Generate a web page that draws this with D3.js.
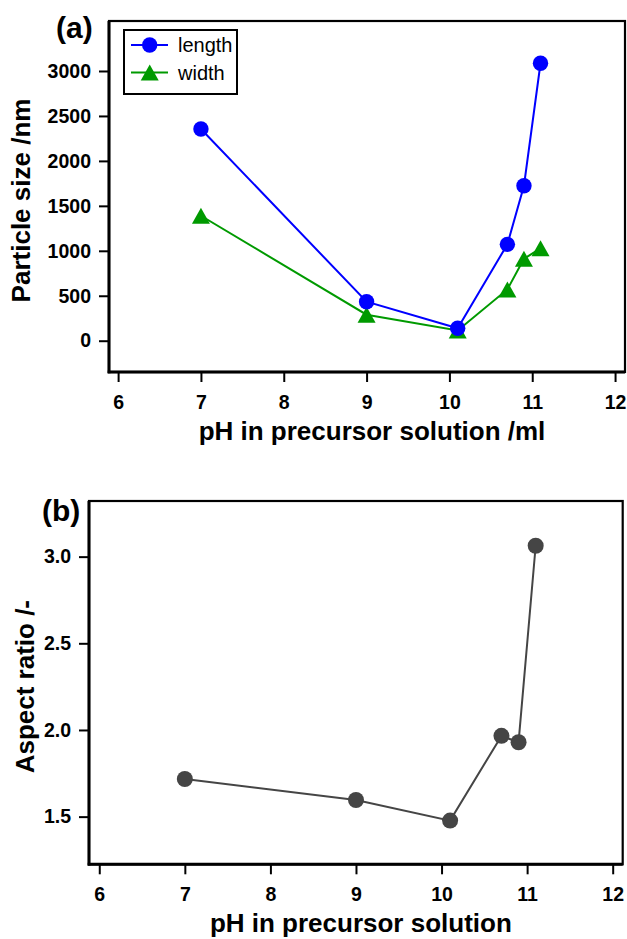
<!DOCTYPE html>
<html>
<head>
<meta charset="utf-8">
<script src="https://cdn.jsdelivr.net/npm/d3@7"></script>
<style>
  html, body { margin: 0; padding: 0; background: #fff; }
  svg { display: block; font-family: "Liberation Sans", Arial, Helvetica, sans-serif; }
</style>
</head>
<body>
<svg id="chart" width="627" height="939"></svg>
<script>
// ---- data ----
const phValues = [7, 9, 10.1, 10.7, 10.9, 11.1];
const lengthNm = [2355, 434, 138, 1072, 1724, 3086];
const widthNm = [1390, 289, 113, 570, 911, 1028];
const aspectRatio = [1.717, 1.596, 1.477, 1.966, 1.929, 3.063];
const xTicks = [6, 7, 8, 9, 10, 11, 12];
const yTicksA = [0, 500, 1000, 1500, 2000, 2500, 3000];
const yTicksB = [1.5, 2.0, 2.5, 3.0];
const seriesNames = ["length", "width"];

const svg = d3.select("#chart");
const tickFont = 19.5, titleFont = 26;

function drawFrame(g, x, y, xT, yT, yFmt, xTitle, yTitle, yTitleX, label, labelX, labelY) {
  const [x0, x1] = x.range();
  const [y0, y1] = y.range(); // y0 bottom, y1 top
  const xa = g.append("g").attr("transform", `translate(0,${y0})`)
    .call(d3.axisBottom(x).tickValues(xT).tickSize(10).tickSizeOuter(0).tickPadding(13).tickFormat(d3.format("d")));
  xa.select(".domain").remove();
  xa.selectAll("line").attr("stroke", "#000").attr("stroke-width", 2);
  xa.selectAll("text").attr("font-size", tickFont).attr("font-weight", "bold").attr("fill", "#000");
  const ya = g.append("g").attr("transform", `translate(${x0},0)`)
    .call(d3.axisLeft(y).tickValues(yT).tickSize(10).tickSizeOuter(0).tickPadding(8).tickFormat(yFmt));
  ya.select(".domain").remove();
  ya.selectAll("line").attr("stroke", "#000").attr("stroke-width", 2);
  ya.selectAll("text").attr("font-size", tickFont).attr("font-weight", "bold").attr("fill", "#000");
  g.append("rect").attr("x", x0).attr("y", y1).attr("width", x1 - x0).attr("height", y0 - y1)
    .attr("fill", "none").attr("stroke", "#000").attr("stroke-width", 2.2);
  g.append("line").attr("x1", x0).attr("x2", x0).attr("y1", y1).attr("y2", y0 + 1.3).attr("stroke", "#000").attr("stroke-width", 3);
  g.append("line").attr("x1", x0 - 1.3).attr("x2", x1).attr("y1", y0).attr("y2", y0).attr("stroke", "#000").attr("stroke-width", 3);
  g.append("text").attr("x", (x0 + x1) / 2 + 5).attr("y", y0 + 68).attr("text-anchor", "middle")
    .attr("font-size", titleFont).attr("font-weight", "bold").text(xTitle);
  g.append("text").attr("transform", `translate(${yTitleX},${(y0 + y1) / 2 + 4}) rotate(-90)`)
    .attr("text-anchor", "middle").attr("font-size", titleFont).attr("font-weight", "bold").text(yTitle);
  g.append("text").attr("x", labelX).attr("y", labelY).attr("font-size", 30).attr("font-weight", "bold").text(label);
}

function triPath(cx, cy, w, h) {
  return `M${cx},${cy - h / 2}L${cx + w / 2},${cy + h / 2}L${cx - w / 2},${cy + h / 2}Z`;
}

// ---- panel (a) ----
const xA = d3.scaleLinear().domain([5.89, 12.12]).range([109, 625]);
const yA = d3.scaleLinear().domain([-348, 3556]).range([372, 21]);
const gA = svg.append("g");
drawFrame(gA, xA, yA, xTicks, yTicksA, d3.format("d"), "pH in precursor solution /ml", "Particle size /nm", 30, "(a)", 56, 38);

const blue = "#0000ff", green = "#009a00";
const lineGen = (xs, ys) => d3.line().x((d, i) => xs(phValues[i])).y(d => ys(d));

gA.append("path").datum(widthNm).attr("d", lineGen(xA, yA)).attr("fill", "none").attr("stroke", green).attr("stroke-width", 2);
gA.append("path").datum(lengthNm).attr("d", lineGen(xA, yA)).attr("fill", "none").attr("stroke", blue).attr("stroke-width", 2);
gA.selectAll(".tri").data(widthNm).enter().append("path")
  .attr("d", (d, i) => triPath(xA(phValues[i]), yA(d), 18, 16)).attr("fill", green);
gA.selectAll(".circ").data(lengthNm).enter().append("circle")
  .attr("cx", (d, i) => xA(phValues[i])).attr("cy", d => yA(d)).attr("r", 7.7).attr("fill", blue);

// legend
const leg = gA.append("g");
leg.append("rect").attr("x", 124).attr("y", 30).attr("width", 113).attr("height", 64)
  .attr("fill", "#fff").attr("stroke", "#000").attr("stroke-width", 2);
const legColors = [blue, green];
seriesNames.forEach((name, i) => {
  const ly = 45 + i * 27.5;
  leg.append("line").attr("x1", 131).attr("x2", 168).attr("y1", ly).attr("y2", ly).attr("stroke", legColors[i]).attr("stroke-width", 2);
  if (i === 0) leg.append("circle").attr("cx", 149.7).attr("cy", ly).attr("r", 7.7).attr("fill", blue);
  else leg.append("path").attr("d", triPath(149.7, ly, 18, 16)).attr("fill", green);
  leg.append("text").attr("x", 178).attr("y", ly + 7).attr("font-size", 20).text(name);
});

// ---- panel (b) ----
const xB = d3.scaleLinear().domain([5.88, 12.117]).range([89, 622.7]);
const yB = d3.scaleLinear().domain([1.225, 3.321]).range([864.3, 501]);
const gB = svg.append("g");
drawFrame(gB, xB, yB, xTicks, yTicksB, d3.format(".1f"), "pH in precursor solution", "Aspect ratio /-", 34, "(b)", 42, 521);

const gray = "#454545";
gB.append("path").datum(aspectRatio).attr("d", lineGen(xB, yB)).attr("fill", "none").attr("stroke", gray).attr("stroke-width", 2);
gB.selectAll(".pt").data(aspectRatio).enter().append("circle")
  .attr("cx", (d, i) => xB(phValues[i])).attr("cy", d => yB(d)).attr("r", 8).attr("fill", gray);
</script>
</body>
</html>
